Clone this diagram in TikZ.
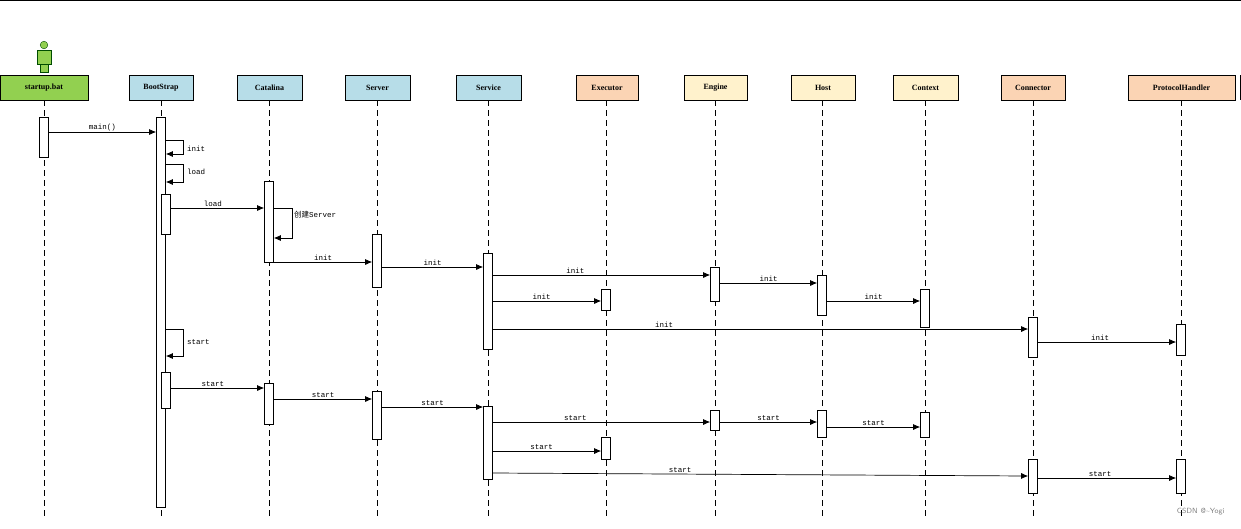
\documentclass[tikz,border=0pt]{standalone}
\usepackage{fontspec}
\setmainfont{Liberation Serif}
\setmonofont{Liberation Mono}
\newfontfamily\cjk{Noto Sans CJK SC}
\usetikzlibrary{arrows.meta}
\definecolor{cgreen}{HTML}{92D050}
\definecolor{cblue}{HTML}{B7DDE8}
\definecolor{corange}{HTML}{FBD4B4}
\definecolor{cyellow}{HTML}{FFF2CC}
\newcommand{\mkact}[4]{\node[act,minimum height={(#4-#3)*1pt}] (#1) at (#2,{(#3+#4)/2}) {};}
\newcommand{\mkhead}[5]{\node[head,fill=#5,minimum width={(#4-#3)*1pt}] (h#1) at ({(#3+#4)/2},87.5) {#1};
  \draw[life] (#2,100) -- (#2,516);}
\begin{document}
\begin{tikzpicture}[x=1pt,y=-1pt,
  head/.style={draw,minimum height=25pt,inner sep=0,font=\bfseries\fontsize{8}{9}\selectfont},
  life/.style={dash pattern=on 6pt off 4pt,line width=0.7pt},
  act/.style={draw,fill=white,minimum width=9pt,inner sep=0,line width=0.7pt},
  msg/.style={line width=0.7pt,-{Latex[length=7pt,width=6pt]}},
  lbl/.style={font=\ttfamily\fontsize{7.5}{8}\selectfont,inner sep=1pt}]
\useasboundingbox (0,0) rectangle (1241,528);
\draw[line width=0.8pt] (0,0.5) -- (1241,0.5);
\draw[line width=0.8pt] (1240,75) -- (1240,100);
% actor
\draw[fill=cgreen,draw=black!70!green] (44,45) circle (3.8);
\draw[fill=cgreen,draw=black!70!green] (37,50) rectangle (51,64);
\draw[fill=cgreen,draw=black!70!green] (40,64) rectangle (48,72);
% lifelines and heads
\mkhead{startup.bat}{44}{0}{88}{cgreen}
\mkhead{BootStrap}{161}{129}{193}{cblue}
\mkhead{Catalina}{269}{237}{302}{cblue}
\mkhead{Server}{377}{345}{410}{cblue}
\mkhead{Service}{488}{456}{521}{cblue}
\mkhead{Executor}{606}{576}{638}{corange}
\mkhead{Engine}{715}{684}{747}{cyellow}
\mkhead{Host}{822}{791}{855}{cyellow}
\mkhead{Context}{925}{893}{958}{cyellow}
\mkhead{Connector}{1033}{1001}{1065}{corange}
\mkhead{ProtocolHandler}{1181}{1128}{1235}{corange}
% activations
\mkact{a0}{44}{117}{157}
\mkact{b0}{161}{117}{507}
\mkact{b1}{166}{194}{234}
\mkact{b2}{166}{372}{408}
\mkact{c1}{269}{181}{262}
\mkact{c2}{269}{383}{424}
\mkact{s1}{377}{234}{287}
\mkact{s2}{377}{391}{439}
\mkact{v1}{488}{253}{349}
\mkact{v2}{488}{406}{479}
\mkact{x1}{606}{289}{310}
\mkact{x2}{606}{437}{459}
\mkact{e1}{715}{267}{301}
\mkact{e2}{715}{410}{430}
\mkact{o1}{822}{275}{315}
\mkact{o2}{822}{410}{437}
\mkact{t1}{925}{289}{327}
\mkact{t2}{925}{412}{437}
\mkact{n1}{1033}{317}{357}
\mkact{n2}{1033}{459}{493}
\mkact{p1}{1181}{324}{355}
\mkact{p2}{1181}{459}{493}
% messages
\draw[msg] (a0.east |- 0,132) -- node[lbl,above]{main()} (b0.west |- 0,132);
\draw[msg] (b0.east |- 0,140) -- (183,140) -- (183,154) -- (b0.east |- 0,154);
\node[lbl,anchor=west] at (186,149) {init};
\draw[msg] (b0.east |- 0,164) -- (183,164) -- (183,182) -- (b0.east |- 0,182);
\node[lbl,anchor=west] at (186,172) {load};
\draw[msg] (b1.east |- 0,208) -- node[lbl,above,pos=0.45]{load} (c1.west |- 0,208);
\draw[msg] (c1.east |- 0,208) -- (292,208) -- (292,238) -- (c1.east |- 0,238);
\node[lbl,anchor=west] at (293,215) {{\cjk 创建}Server};
\draw[msg] (c1.east |- 0,262) -- node[lbl,above]{init} (s1.west |- 0,262);
\draw[msg] (s1.east |- 0,267) -- node[lbl,above,pos=0.5]{init} (v1.west |- 0,267);
\draw[msg] (v1.east |- 0,275) -- node[lbl,above,pos=0.38]{init} (e1.west |- 0,275);
\draw[msg] (v1.east |- 0,301) -- node[lbl,above,pos=0.45]{init} (x1.west |- 0,301);
\draw[msg] (e1.east |- 0,283) -- node[lbl,above,pos=0.5]{init} (o1.west |- 0,283);
\draw[msg] (o1.east |- 0,301) -- node[lbl,above,pos=0.5]{init} (t1.west |- 0,301);
\draw[msg] (v1.east |- 0,329) -- node[lbl,above,pos=0.32]{init} (n1.west |- 0,329);
\draw[msg] (n1.east |- 0,342) -- node[lbl,above,pos=0.45]{init} (p1.west |- 0,342);
\draw[msg] (b0.east |- 0,329) -- (183,329) -- (183,356) -- (b0.east |- 0,356);
\node[lbl,anchor=west] at (186,342) {start};
\draw[msg] (b2.east |- 0,388) -- node[lbl,above,pos=0.45]{start} (c2.west |- 0,388);
\draw[msg] (c2.east |- 0,399) -- node[lbl,above,pos=0.5]{start} (s2.west |- 0,399);
\draw[msg] (s2.east |- 0,407) -- node[lbl,above,pos=0.5]{start} (v2.west |- 0,407);
\draw[msg] (v2.east |- 0,422) -- node[lbl,above,pos=0.38]{start} (e2.west |- 0,422);
\draw[msg] (e2.east |- 0,422) -- node[lbl,above,pos=0.5]{start} (o2.west |- 0,422);
\draw[msg] (o2.east |- 0,427) -- node[lbl,above,pos=0.5]{start} (t2.west |- 0,427);
\draw[msg] (v2.east |- 0,451) -- node[lbl,above,pos=0.45]{start} (x2.west |- 0,451);
\draw[msg] (v2.east |- 0,473) -- node[lbl,above,pos=0.35]{start} (n2.west |- 0,476);
\draw[msg] (n2.east |- 0,478) -- node[lbl,above,pos=0.45]{start} (p2.west |- 0,478);
\node[font=\sffamily\fontsize{7.5}{8}\selectfont,text=gray,anchor=east] (wm) at (1228,512) {CSDN @\textasciitilde Yogi};
\end{tikzpicture}
\end{document}
